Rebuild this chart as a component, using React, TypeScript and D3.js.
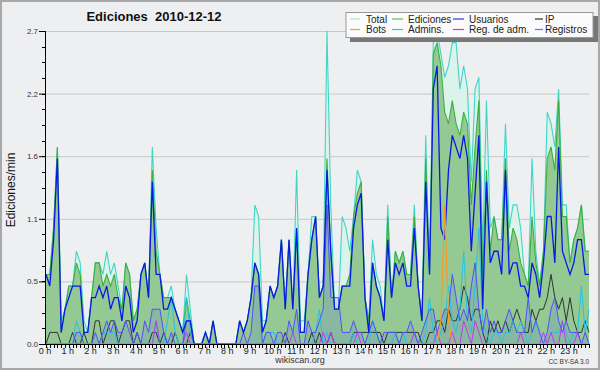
import * as d3 from "d3";

// edits per minute, 10-minute buckets (144 per day)
const total = [
  0.6, 0.6, 1.0, 1.7, 0.2, 0.3,
  0.5, 0.5, 0.8, 0.7, 0.2, 0.1,
  0.4, 0.7, 0.7, 0.6, 0.8, 0.6,
  0.7, 0.5, 0.3, 0.7, 0.6, 0.2,
  0.3, 0.6, 0.7, 0.4, 1.7, 1.0,
  0.6, 0.4, 0.4, 0.5, 0.3, 0.2,
  0.1, 0.6, 0.3, 0, 0, 0,
  0.1, 0, 0.2, 0, 0, 0,
  0, 0, 0, 0.2, 0.1, 0.2,
  0.4, 1.2, 1.1, 0.2, 0.2, 0.5,
  0.4, 0.5, 0.9, 0.3, 0.9, 0.3,
  1.5, 0.2, 0.2, 0.6, 1.1, 1.1,
  0.4, 0.5, 2.7, 1.2, 0.3, 0.3,
  1.1, 1.0, 0.8, 1.1, 1.5, 1.4,
  0.4, 0.2, 0.9, 0.6, 0.5, 0.2,
  1.2, 0.4, 0.8, 0.7, 0.8, 0.6,
  0.6, 1.2, 0.5, 0.2, 1.8, 0.6,
  2.6, 2.7, 2.5, 2.3, 2.4, 2.6,
  2.6, 2.2, 2.4, 2.2, 1.4, 2.2,
  2.3, 0.8, 2.1, 1.0, 1.1, 0.9,
  0.9, 1.9, 1.0, 1.2, 1.2, 1.0,
  0.6, 0.5, 1.6, 0.8, 0.5, 0.8,
  2.0, 1.9, 1.7, 2.2, 1.2, 1.2,
  0.7, 0.9, 1.0, 1.2, 0.8, 0.8,
];

const edits = [
  0.6, 0.6, 1.0, 1.7, 0.1, 0.3,
  0.5, 0.5, 0.7, 0.6, 0.1, 0.1,
  0.4, 0.7, 0.7, 0.5, 0.6, 0.5,
  0.6, 0.4, 0.3, 0.7, 0.6, 0.2,
  0.3, 0.6, 0.7, 0.4, 1.5, 0.8,
  0.6, 0.4, 0.4, 0.4, 0.3, 0.2,
  0.1, 0.4, 0.2, 0, 0, 0,
  0.1, 0, 0.2, 0, 0, 0,
  0, 0, 0, 0.2, 0.1, 0.2,
  0.4, 0.7, 0.6, 0.1, 0.2, 0.5,
  0.4, 0.5, 0.9, 0.3, 0.9, 0.3,
  1.0, 0.1, 0.1, 0.6, 0.9, 1.1,
  0.4, 0.5, 1.6, 0.8, 0.3, 0.3,
  0.5, 0.5, 0.6, 1.1, 1.3, 1.4,
  0.4, 0.2, 0.7, 0.5, 0.4, 0.2,
  1.1, 0.4, 0.8, 0.7, 0.8, 0.6,
  0.6, 1.1, 0.5, 0.2, 1.6, 0.6,
  2.5, 2.6, 2.4, 2.0, 1.9, 2.1,
  1.9, 1.8, 2.0, 1.9, 1.2, 1.7,
  2.1, 0.6, 1.5, 0.8, 1.1, 0.9,
  0.9, 1.6, 0.8, 1.0, 0.9, 0.7,
  0.6, 0.5, 1.1, 0.7, 0.5, 0.8,
  1.6, 1.7, 1.5, 2.1, 1.1, 1.1,
  0.7, 0.9, 1.0, 1.2, 0.8, 0.8,
];

const users = [
  0.6, 0.5, 0.9, 1.6, 0.1, 0.3,
  0.4, 0.5, 0.5, 0.5, 0.1, 0.1,
  0.4, 0.4, 0.5, 0.4, 0.5, 0.3,
  0.4, 0.4, 0.2, 0.5, 0.4, 0.1,
  0.2, 0.6, 0.7, 0.4, 1.4, 0.6,
  0.6, 0.3, 0.3, 0.4, 0.3, 0.2,
  0.1, 0.2, 0.2, 0, 0, 0,
  0.1, 0, 0.2, 0, 0, 0,
  0, 0, 0, 0.2, 0.1, 0.2,
  0.4, 0.7, 0.6, 0.1, 0.2, 0.5,
  0.4, 0.5, 0.9, 0.3, 0.9, 0.3,
  1.0, 0.1, 0.1, 0.6, 0.9, 1.1,
  0.4, 0.5, 1.5, 0.8, 0.3, 0.3,
  0.5, 0.5, 0.5, 1.0, 1.2, 1.3,
  0.4, 0.1, 0.7, 0.5, 0.4, 0.2,
  0.9, 0.4, 0.7, 0.6, 0.7, 0.5,
  0.5, 1.0, 0.5, 0.2, 1.4, 0.6,
  2.2, 2.4, 1.0, 0.9, 1.5, 1.8,
  1.7, 1.6, 1.8, 1.6, 0.8, 1.3,
  1.8, 0.3, 1.4, 0.7, 0.8, 0.8,
  0.6, 1.5, 0.6, 0.7, 0.7, 0.5,
  0.5, 0.4, 0.7, 0.6, 0.4, 0.7,
  1.1, 1.1, 0.7, 1.7, 0.8, 0.7,
  0.6, 0.7, 0.9, 0.9, 0.6, 0.6,
];

const ip = [
  0, 0.1, 0.1, 0.1, 0, 0,
  0, 0.1, 0, 0, 0.1, 0,
  0, 0.2, 0.2, 0, 0.1, 0.2,
  0.2, 0, 0.1, 0.2, 0.2, 0,
  0.1, 0, 0, 0, 0.1, 0.1,
  0, 0.1, 0, 0, 0.1, 0,
  0, 0, 0.1, 0, 0, 0,
  0, 0, 0, 0, 0, 0,
  0, 0, 0, 0, 0, 0,
  0, 0, 0, 0, 0, 0,
  0, 0, 0, 0.1, 0, 0,
  0, 0, 0, 0, 0.1, 0,
  0.1, 0, 0, 0.1, 0, 0,
  0, 0, 0, 0.1, 0.1, 0.1,
  0.1, 0.1, 0.1, 0.1, 0.1, 0,
  0.1, 0.1, 0.1, 0.1, 0.1, 0.1,
  0.1, 0.1, 0.1, 0, 0, 0.1,
  0.1, 0.2, 0.2, 0.1, 0.3, 0.2,
  0.2, 0.3, 0.5, 0.4, 0.2, 0.3,
  0.3, 0.1, 0, 0.2, 0.1, 0.2,
  0.1, 0.2, 0.1, 0.2, 0.3, 0.2,
  0.1, 0.1, 0.3, 0.2, 0.3, 0.3,
  0.4, 0.6, 0.4, 0.3, 0.4, 0.2,
  0.4, 0.2, 0.1, 0.1, 0.2, 0.1,
];

const bots = [
  0, 0, 0, 0, 0, 0,
  0, 0, 0, 0, 0, 0,
  0, 0, 0, 0, 0, 0,
  0, 0, 0, 0, 0, 0,
  0, 0, 0, 0, 0, 0,
  0, 0, 0, 0, 0, 0,
  0, 0, 0, 0, 0, 0,
  0, 0, 0, 0, 0, 0,
  0, 0, 0, 0, 0, 0,
  0, 0, 0, 0, 0, 0,
  0, 0, 0, 0, 0, 0,
  0, 0, 0, 0, 0, 0,
  0, 0, 0, 0, 0, 0,
  0, 0, 0, 0, 0, 0,
  0, 0, 0, 0, 0, 0,
  0, 0, 0, 0, 0, 0,
  0, 0, 0, 0, 0, 0,
  0, 0, 0.2, 1.2, 0.2, 0,
  0, 0, 0, 0, 0, 0,
  0, 0, 0, 0, 0, 0,
  0, 0, 0, 0, 0, 0,
  0, 0, 0, 0, 0, 0,
  0, 0, 0, 0, 0, 0,
  0, 0, 0, 0, 0, 0,
];

const admins = [
  0, 0, 0, 0, 0, 0,
  0, 0, 0.2, 0.1, 0, 0,
  0, 0, 0, 0.1, 0.1, 0.1,
  0.1, 0, 0, 0, 0, 0,
  0, 0, 0, 0, 0, 0.2,
  0, 0, 0.2, 0.4, 0.1, 0,
  0, 0.4, 0.1, 0, 0, 0,
  0, 0, 0, 0, 0, 0,
  0, 0, 0, 0, 0, 0,
  0, 0, 0, 0, 0.1, 0.1,
  0.1, 0, 0, 0, 0, 0,
  0, 0, 0, 0, 0, 0.1,
  0.3, 0, 0.1, 0, 0, 0,
  0, 0, 0, 0.1, 0, 0,
  0, 0, 0.2, 0.1, 0, 0,
  0, 0, 0.1, 0, 0.1, 0,
  0, 0.1, 0, 0, 0.1, 0.4,
  0.1, 0, 0.1, 0.2, 0.5, 0.2,
  0.1, 0.3, 0.8, 0.2, 0.1, 0.5,
  1.0, 0.2, 0.1, 0, 0.1, 0.1,
  0, 0.1, 0.1, 0.2, 0.1, 0.2,
  0.1, 0, 0.1, 0.2, 0.1, 0,
  0, 0.1, 0.1, 0.1, 0.2, 0.1,
  0, 0.1, 0.1, 0.5, 0.1, 0.3,
];

const regAdm = [
  0, 0, 0, 0, 0, 0,
  0, 0, 0, 0, 0, 0,
  0, 0, 0, 0, 0, 0,
  0, 0, 0, 0, 0, 0,
  0, 0, 0, 0, 0, 0.2,
  0, 0, 0, 0, 0, 0,
  0, 0.1, 0, 0, 0, 0,
  0, 0, 0, 0, 0, 0,
  0, 0, 0, 0, 0, 0,
  0, 0, 0, 0, 0, 0,
  0, 0, 0, 0, 0, 0.1,
  0, 0, 0, 0, 0, 0,
  0, 0.1, 0, 0.1, 0, 0,
  0, 0, 0, 0, 0.1, 0,
  0, 0, 0, 0, 0, 0,
  0, 0, 0, 0, 0, 0,
  0, 0.1, 0, 0, 0, 0,
  0, 0.1, 0, 0, 0, 0.1,
  0, 0, 0.2, 0.1, 0, 0.2,
  0.1, 0, 0, 0, 0, 0,
  0, 0, 0, 0, 0, 0.1,
  0, 0, 0, 0, 0, 0.1,
  0, 0.1, 0, 0, 0.2, 0,
  0, 0, 0.1, 0, 0, 0,
];

const logs = [
  0, 0, 0, 0, 0, 0,
  0, 0, 0.1, 0.1, 0, 0,
  0, 0.1, 0, 0.1, 0.2, 0.1,
  0.2, 0.1, 0.1, 0.2, 0.1, 0,
  0.1, 0, 0.2, 0.1, 0.3, 0.3,
  0.3, 0.1, 0, 0.1, 0, 0,
  0, 0.2, 0.2, 0, 0, 0,
  0, 0, 0, 0, 0, 0,
  0, 0, 0, 0, 0.1, 0,
  0.1, 0.5, 0.5, 0, 0.1, 0.1,
  0, 0.1, 0.1, 0, 0.2, 0.1,
  0.3, 0, 0, 0.2, 0.1, 0.1,
  0.2, 0.3, 1.2, 0.4, 0.4, 0.4,
  0.1, 0.1, 0.1, 0.2, 0.1, 0.1,
  0, 0.1, 0.2, 0.1, 0, 0.1,
  0.1, 0.1, 0.1, 0, 0.1, 0.1,
  0.2, 0.1, 0, 0.1, 0.2, 0.3,
  0.3, 0.1, 0.2, 0.3, 0.3, 0.6,
  0.4, 0.2, 0.3, 0.2, 0.5, 0.7,
  0.3, 0.1, 0.3, 0.1, 0.2, 0.1,
  0.1, 0.2, 0.3, 0.2, 0.1, 0.1,
  0.1, 0.4, 0.1, 0.2, 0.1, 0,
  0.1, 0.3, 0.4, 0.2, 0.1, 0.2,
  0.1, 0.1, 0.1, 0, 0.1, 0,
];

const legendItems = [
  { name: "Total", color: "#a6e6dc", col: 0, row: 0 },
  { name: "Ediciones", color: "#5cc05c", col: 1, row: 0 },
  { name: "Usuarios", color: "#3838e8", col: 2, row: 0 },
  { name: "IP", color: "#333333", col: 3, row: 0 },
  { name: "Bots", color: "#ff9a30", col: 0, row: 1 },
  { name: "Admins.", color: "#30c8e0", col: 1, row: 1 },
  { name: "Reg. de adm.", color: "#cc33ee", col: 2, row: 1 },
  { name: "Registros", color: "#6a6aff", col: 3, row: 1 },
];

const W = 600;
const H = 370;
const font = "'Liberation Sans', Arial, sans-serif";

export default function App() {
  const x = d3.scaleLinear().domain([0, 143]).range([46, 589]);
  const y = d3.scaleLinear().domain([0, 2.7]).range([344, 31]);

  const area = (data: number[]) =>
    d3
      .area<number>()
      .x((_, i) => x(i))
      .y0(y(0))
      .y1((d) => y(d))(data) || "";
  const line = (data: number[]) =>
    d3
      .line<number>()
      .x((_, i) => x(i))
      .y((d) => y(d))(data) || "";

  const majors = d3.range(6).map((k) => k * 0.54);
  const minors = d3.range(21).map((k) => k * 0.135);
  const fmt = d3.format(".1f");
  const slots = d3.range(144);

  // legend layout
  const swX = [350, 392, 453, 535];
  const swW = [10, 11, 11, 8];
  const txX = [366, 408, 469, 545];
  const rowY = [19, 29.5];

  return (
    <>
      <style>{`body{margin:0}`}</style>
      <svg width={W} height={H} style={{ display: "block" }}>
        <rect x={1} y={1} width={W - 2} height={H - 2} fill="#eeeff1" stroke="#a8a8a8" strokeWidth={2} />

        {/* grid */}
        {majors.map((v) => (
          <line key={"g" + v} x1={45} x2={589} y1={y(v) + 0.5} y2={y(v) + 0.5} stroke="#c8c8c8" />
        ))}

        {/* areas */}
        <path d={area(total)} fill="#dcf3ec" />
        <path d={area(edits)} fill="#94c994" />
        <path d={area(logs)} fill="rgba(90,110,230,0.18)" />

        {/* lines */}
        <path d={line(total)} fill="none" stroke="#3fd6c6" strokeWidth={1.1} />
        <path d={line(edits)} fill="none" stroke="#3cb03c" strokeWidth={1.1} />
        <path d={line(ip)} fill="none" stroke="#333" strokeWidth={1} />
        <path d={line(admins)} fill="none" stroke="#22c4e4" strokeWidth={1} />
        <path d={line(regAdm)} fill="none" stroke="#cc33ee" strokeWidth={1} />
        <path d={line(logs)} fill="none" stroke="#5050ff" strokeWidth={1} />
        <path d={line(users)} fill="none" stroke="#0a18e6" strokeWidth={1.3} />
        <path d={line(bots)} fill="none" stroke="#ff9a20" strokeWidth={1.2} />

        {/* y axis */}
        <line x1={45.5} x2={45.5} y1={31} y2={344} stroke="#000" />
        {minors.map((v) => (
          <line key={"m" + v} x1={42} x2={45} y1={Math.round(y(v)) + 0.5} y2={Math.round(y(v)) + 0.5} stroke="#000" />
        ))}
        {majors.map((v) => (
          <g key={"t" + v}>
            <line x1={39} x2={45} y1={y(v) + 0.5} y2={y(v) + 0.5} stroke="#000" />
            <text x={38} y={y(v) + 3} textAnchor="end" fontSize={8} fontFamily={font} fill="#333">
              {fmt(v)}
            </text>
          </g>
        ))}
        <text transform="translate(15,190) rotate(-90)" textAnchor="middle" fontSize={12} fontFamily={font} fill="#111">
          Ediciones/min
        </text>

        {/* x axis */}
        <line x1={45} x2={590} y1={344.5} y2={344.5} stroke="#000" />
        {slots.map((i) => (
          <line key={"x" + i} x1={Math.round(x(i)) + 0.5} x2={Math.round(x(i)) + 0.5} y1={344} y2={348} stroke="#000" />
        ))}
        {slots
          .filter((i) => i % 6 === 0)
          .map((i) => (
            <text key={"h" + i} x={x(i) - 1} y={354} textAnchor="middle" fontSize={9} fontFamily={font} fill="#222">
              {`${i / 6} h`}
            </text>
          ))}

        {/* title */}
        <text x={154} y={21} textAnchor="middle" fontSize={13} fontWeight="bold" fontFamily={font} fill="#111" style={{ whiteSpace: "pre" }}>
          {"Ediciones\u00a0\u00a02010-12-12"}
        </text>

        {/* legend */}
        <rect x={350} y={16} width={248} height={26} fill="#777" />
        <rect x={346} y={12.5} width={247} height={25} fill="#fbfbfb" stroke="#999" />
        {legendItems.map((d) => (
          <g key={d.name}>
            <line
              x1={swX[d.col]}
              x2={swX[d.col] + swW[d.col]}
              y1={rowY[d.row]}
              y2={rowY[d.row]}
              stroke={d.color}
              strokeWidth={1.2}
            />
            <text x={txX[d.col]} y={rowY[d.row] + 3.5} fontSize={10} fontFamily={font} fill="#222">
              {d.name}
            </text>
          </g>
        ))}

        <text x={300} y={363} textAnchor="middle" fontSize={9} fontFamily={font} fill="#333">
          wikiscan.org
        </text>
        <text x={589} y={364} textAnchor="end" fontSize={6.5} fontFamily={font} fill="#333">
          CC BY-SA 3.0
        </text>
      </svg>
    </>
  );
}
